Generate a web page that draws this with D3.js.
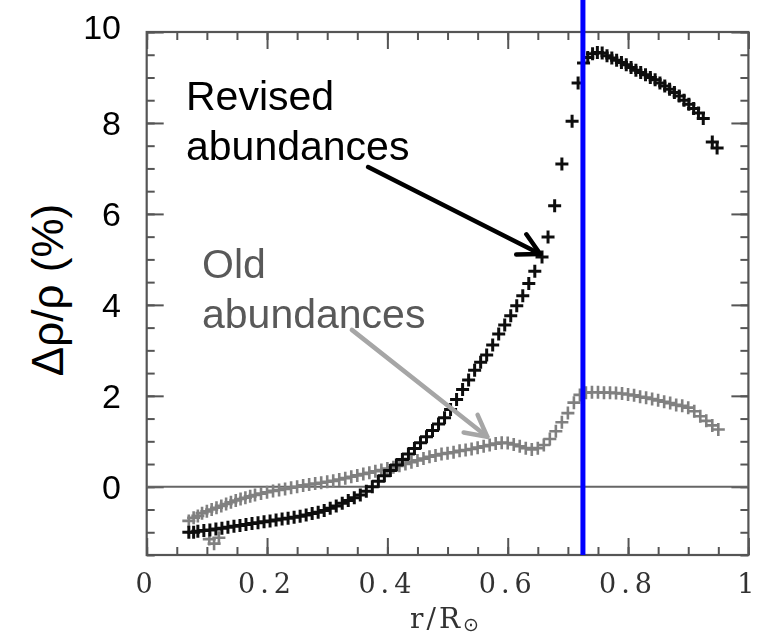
<!DOCTYPE html>
<html>
<head>
<meta charset="utf-8">
<script src="https://cdn.jsdelivr.net/npm/d3@7"></script>
<style>
  body { margin: 0; background: #fff; }
  svg { display: block; }
</style>
</head>
<body>
<svg id="chart" width="765" height="638"></svg>
<script>
// Relative density difference between solar models and helioseismology.
// Revised (new) solar abundances: radius r/R_sun and delta rho / rho in percent
const revisedR = [
  0.070, 0.078, 0.085, 0.095, 0.105, 0.115, 0.125, 0.135, 0.145, 0.155,
  0.165, 0.175, 0.185, 0.195, 0.205, 0.215, 0.225, 0.235, 0.245, 0.255,
  0.265, 0.275, 0.285, 0.295, 0.305, 0.315, 0.325, 0.335, 0.345, 0.355,
  0.365, 0.375, 0.385, 0.395, 0.405, 0.415, 0.425, 0.435, 0.445, 0.455,
  0.465, 0.475, 0.485, 0.495, 0.505, 0.515, 0.525, 0.535, 0.545, 0.555,
  0.565, 0.575, 0.585, 0.595, 0.605, 0.615, 0.625, 0.635, 0.645, 0.657,
  0.667, 0.678, 0.690, 0.707, 0.717, 0.726, 0.733, 0.741, 0.749, 0.757,
  0.765, 0.773, 0.781, 0.789, 0.797, 0.805, 0.813, 0.821, 0.829, 0.837,
  0.845, 0.853, 0.861, 0.869, 0.877, 0.885, 0.893, 0.901, 0.909, 0.917,
  0.925, 0.940, 0.948
];
const revisedDrho = [
  -1.00, -1.00, -0.98, -0.96, -0.95, -0.93, -0.91, -0.89, -0.87, -0.85,
  -0.83, -0.81, -0.79, -0.77, -0.75, -0.73, -0.71, -0.69, -0.67, -0.65,
  -0.62, -0.59, -0.56, -0.52, -0.47, -0.42, -0.36, -0.30, -0.24, -0.18,
  -0.10, 0.00, 0.12, 0.24, 0.36, 0.48, 0.60, 0.72, 0.84, 0.97,
  1.10, 1.24, 1.38, 1.52, 1.70, 1.92, 2.14, 2.35, 2.56, 2.74,
  2.90, 3.12, 3.36, 3.56, 3.76, 3.98, 4.20, 4.47, 4.74, 5.05,
  5.49, 6.18, 7.10, 8.04, 8.88, 9.32, 9.44, 9.52, 9.55, 9.54,
  9.48, 9.43, 9.38, 9.33, 9.28, 9.22, 9.16, 9.11, 9.06, 9.00,
  8.95, 8.88, 8.81, 8.74, 8.67, 8.59, 8.50, 8.41, 8.32, 8.22,
  8.10, 7.58, 7.45
];

// Old solar abundances
const oldR = [
  0.070, 0.078, 0.085, 0.092, 0.100, 0.108, 0.116, 0.124, 0.132, 0.140,
  0.148, 0.156, 0.164, 0.172, 0.180, 0.190, 0.200, 0.210, 0.220, 0.230,
  0.240, 0.250, 0.260, 0.270, 0.280, 0.290, 0.300, 0.310, 0.320, 0.330,
  0.340, 0.350, 0.360, 0.370, 0.380, 0.390, 0.400, 0.410, 0.420, 0.430,
  0.440, 0.450, 0.460, 0.470, 0.480, 0.490, 0.500, 0.510, 0.520, 0.530,
  0.540, 0.550, 0.560, 0.570, 0.580, 0.590, 0.600, 0.610, 0.620, 0.630,
  0.640, 0.650, 0.660, 0.670, 0.680, 0.690, 0.700, 0.710, 0.720, 0.730,
  0.740, 0.750, 0.760, 0.770, 0.780, 0.790, 0.800, 0.810, 0.820, 0.830,
  0.840, 0.850, 0.860, 0.870, 0.880, 0.890, 0.900, 0.910, 0.920, 0.930,
  0.940, 0.950, 0.104, 0.112, 0.120
];
const oldDrho = [
  -0.75, -0.68, -0.64, -0.58, -0.54, -0.50, -0.46, -0.42, -0.38, -0.34,
  -0.30, -0.27, -0.24, -0.21, -0.18, -0.15, -0.12, -0.09, -0.07, -0.05,
  -0.02, 0.00, 0.03, 0.05, 0.07, 0.09, 0.11, 0.13, 0.16, 0.19,
  0.22, 0.25, 0.28, 0.31, 0.34, 0.37, 0.40, 0.43, 0.46, 0.50,
  0.54, 0.58, 0.62, 0.66, 0.69, 0.72, 0.74, 0.76, 0.79, 0.81,
  0.83, 0.86, 0.89, 0.92, 0.95, 0.97, 0.96, 0.93, 0.89, 0.85,
  0.82, 0.85, 0.92, 1.05, 1.22, 1.42, 1.62, 1.85, 2.02, 2.07,
  2.08, 2.08, 2.07, 2.07, 2.06, 2.05, 2.03, 2.01, 1.98, 1.96,
  1.93, 1.90, 1.87, 1.84, 1.80, 1.78, 1.74, 1.66, 1.55, 1.45,
  1.35, 1.26, -1.15, -1.25, -1.12
];

const xTicks = [0, 0.2, 0.4, 0.6, 0.8, 1];
const xTickLabels = ["0", "0.2", "0.4", "0.6", "0.8", "1"];
const yTicks = [0, 2, 4, 6, 8, 10];
const yTickLabels = ["0", "2", "4", "6", "8", "10"];
const convectionBase = 0.725;   // base of the convection zone, r/R_sun

const svg = d3.select("#chart");
const defs = svg.append("defs");
defs.append("filter").attr("id", "soft")
  .attr("x", "-5%").attr("y", "-5%").attr("width", "110%").attr("height", "110%")
  .append("feGaussianBlur").attr("stdDeviation", 0.7);

const x = d3.scaleLinear().domain([0, 1]).range([146.7, 748.4]);
const y = d3.scaleLinear().domain([-1.5, 10]).range([555, 32]);

const plot = svg.append("g").attr("filter", "url(#soft)");
const frameColor = "#555";

// Inward ticks on all four sides: minor and major
function tickAxis(axisFn, scale, values, size, transform) {
  const g = plot.append("g").attr("transform", transform)
    .call(axisFn(scale).tickValues(values).tickSize(size).tickFormat(""));
  g.select(".domain").remove();
  g.selectAll(".tick line").attr("stroke", frameColor).attr("stroke-width", 2);
}
const xMinor = d3.range(0, 1.0001, 0.05);
const yMinor = d3.range(-1.5, 10.0001, 0.5);
tickAxis(d3.axisBottom, x, xMinor, -8, `translate(0,${y(-1.5)})`);
tickAxis(d3.axisBottom, x, xTicks, -17, `translate(0,${y(-1.5)})`);
tickAxis(d3.axisTop, x, xMinor, -8, `translate(0,${y(10)})`);
tickAxis(d3.axisTop, x, xTicks, -17, `translate(0,${y(10)})`);
tickAxis(d3.axisLeft, y, yMinor, -8, `translate(${x(0)},0)`);
tickAxis(d3.axisLeft, y, yTicks, -17, `translate(${x(0)},0)`);
tickAxis(d3.axisRight, y, yMinor, -8, `translate(${x(1)},0)`);
tickAxis(d3.axisRight, y, yTicks, -17, `translate(${x(1)},0)`);

// frame
plot.append("rect")
  .attr("x", x(0)).attr("y", y(10))
  .attr("width", x(1) - x(0)).attr("height", y(-1.5) - y(10))
  .attr("fill", "none").attr("stroke", frameColor).attr("stroke-width", 2.2);

// zero line
plot.append("line")
  .attr("x1", x(0)).attr("x2", x(1)).attr("y1", y(0)).attr("y2", y(0))
  .attr("stroke", "#666").attr("stroke-width", 2);

// cross markers
const cross = "M-6.5,0H6.5M0,-6.5V6.5";
const oldPts = oldR.map((r, i) => [r, oldDrho[i]]);
const revPts = revisedR.map((r, i) => [r, revisedDrho[i]]);

plot.append("g").selectAll("path").data(oldPts).join("path")
  .attr("d", cross)
  .attr("transform", d => `translate(${x(d[0])},${y(d[1])})`)
  .attr("stroke", "#808080").attr("stroke-width", 2.6).attr("fill", "none");

plot.append("g").selectAll("path").data(revPts).join("path")
  .attr("d", cross)
  .attr("transform", d => `translate(${x(d[0])},${y(d[1])})`)
  .attr("stroke", "#111").attr("stroke-width", 3).attr("fill", "none");

// x tick labels (serif, part of the plot)
plot.append("g").selectAll("text").data(xTicks).join("text")
  .attr("x", d => x(d)).attr("y", 593)
  .attr("text-anchor", "middle")
  .attr("font-family", "'DejaVu Serif', serif").attr("font-size", 27)
  .attr("letter-spacing", 5)
  .attr("fill", "#333")
  .text((d, i) => xTickLabels[i]);

const xTitle = plot.append("text")
  .attr("x", 446).attr("y", 628)
  .attr("text-anchor", "middle")
  .attr("font-family", "'DejaVu Serif', serif").attr("font-size", 28)
  .attr("letter-spacing", 3)
  .attr("fill", "#333");
xTitle.append("tspan").text("r/R");
xTitle.append("tspan").attr("font-size", 19).attr("dy", 3)
  .attr("font-family", "'DejaVu Sans', sans-serif").text("\u2299");

// base of the convection zone
svg.append("line")
  .attr("x1", x(convectionBase)).attr("x2", x(convectionBase))
  .attr("y1", 0).attr("y2", y(-1.5))
  .attr("stroke", "#0000ff").attr("stroke-width", 5);

// y tick labels and title
svg.append("g").selectAll("text").data(yTicks).join("text")
  .attr("x", 121).attr("y", d => y(d) - (d === 10 ? 5 : 0))
  .attr("dy", "0.36em")
  .attr("text-anchor", "end")
  .attr("font-family", "'Liberation Sans', Arial, sans-serif").attr("font-size", 34)
  .attr("fill", "#000")
  .text((d, i) => yTickLabels[i]);

svg.append("text")
  .attr("transform", "translate(63,290) rotate(-90)")
  .attr("text-anchor", "middle")
  .attr("font-family", "'Liberation Sans', Arial, sans-serif").attr("font-size", 44)
  .attr("fill", "#000")
  .text("\u0394\u03c1/\u03c1 (%)");

// annotations
function label(lines, x0, y0, color) {
  const t = svg.append("text")
    .attr("font-family", "'Liberation Sans', Arial, sans-serif")
    .attr("font-size", 41).attr("fill", color);
  lines.forEach((s, i) => t.append("tspan").attr("x", x0).attr("y", y0 + i * 50).text(s));
}
label(["Revised", "abundances"], 186, 110, "#000");
label(["Old", "abundances"], 202, 278, "#595959");

function arrow(from, to, color) {
  const p0 = [x(from[0]), y(from[1])], p1 = [x(to[0]), y(to[1])];
  const ang = Math.atan2(p1[1] - p0[1], p1[0] - p0[0]);
  const len = 24, spread = 28 * Math.PI / 180;
  const a1 = [p1[0] - len * Math.cos(ang - spread), p1[1] - len * Math.sin(ang - spread)];
  const a2 = [p1[0] - len * Math.cos(ang + spread), p1[1] - len * Math.sin(ang + spread)];
  const g = svg.append("g").attr("stroke", color).attr("stroke-width", 4.5)
    .attr("fill", "none").attr("stroke-linecap", "round").attr("stroke-linejoin", "round");
  g.append("line").attr("x1", p0[0]).attr("y1", p0[1]).attr("x2", p1[0]).attr("y2", p1[1]);
  g.append("path").attr("d", `M${a1}L${p1}L${a2}`);
}
arrow([0.368, 7.03], [0.654, 5.12], "#000");
arrow([0.341, 3.45], [0.566, 1.10], "#a6a6a6");
</script>
</body>
</html>
